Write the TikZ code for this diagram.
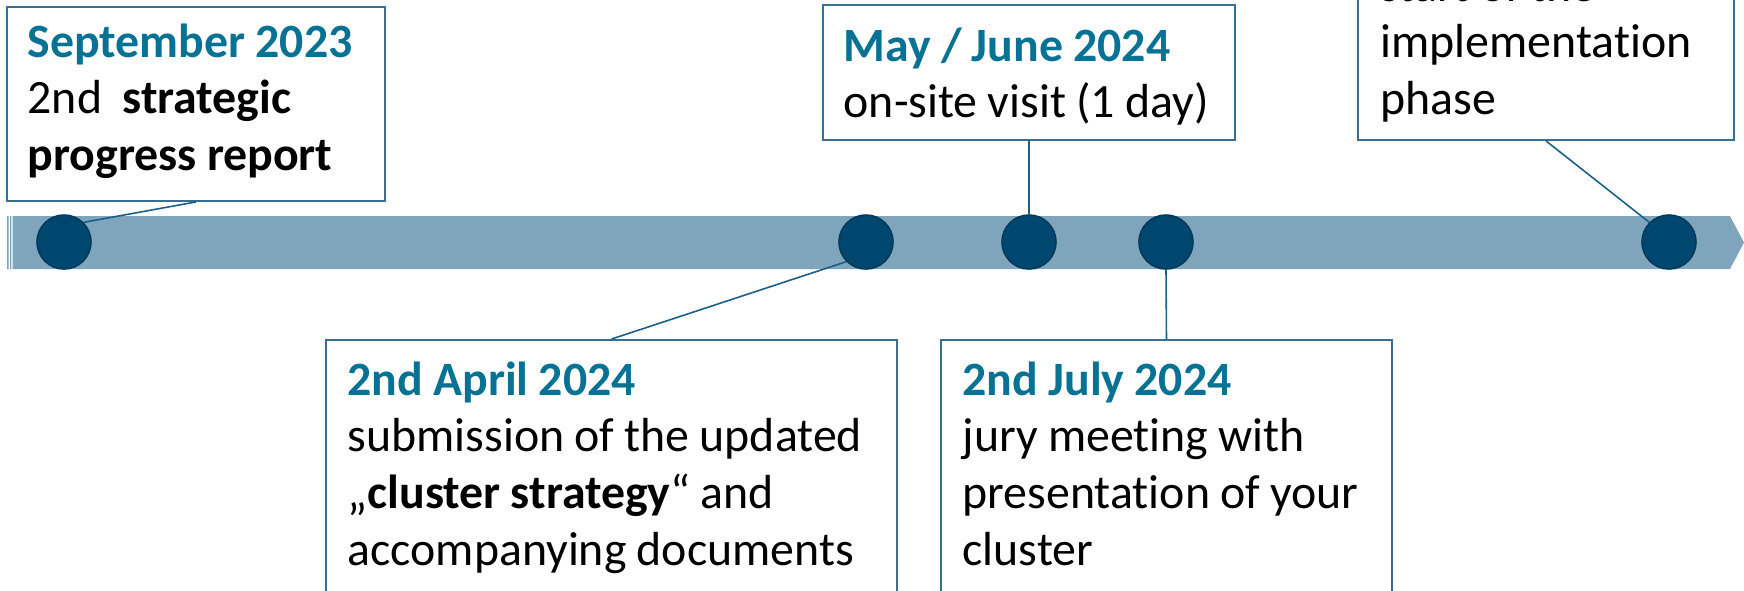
\documentclass[tikz,border=0pt]{standalone}
\usepackage{fontspec}
\setmainfont[Ligatures=NoCommon]{Carlito}
\definecolor{barblue}{HTML}{7FA5BD}
\definecolor{dotblue}{HTML}{00476F}
\definecolor{dotedge}{HTML}{003A5A}
\definecolor{headteal}{HTML}{087294}
\definecolor{frameblue}{HTML}{3A6F91}
\definecolor{linkblue}{HTML}{1B5E86}
\tikzset{
  dot/.style={circle, fill=dotblue, draw=dotedge, line width=0.45pt, minimum size=0.54cm, inner sep=0pt},
  card/.style={draw=frameblue, line width=0.5pt, fill=white, inner sep=0pt},
  txt/.style={anchor=base west, inner sep=0pt, align=left, text width=#1,
    font=\fontsize{13.6}{16.2}\selectfont, execute at begin node={\spaceskip=2.9pt\relax}},
  link/.style={draw=linkblue, line width=0.45pt},
}
\newcommand{\hd}[1]{\textcolor{headteal}{\textbf{#1}}}

\begin{document}
\begin{tikzpicture}[x=0.01cm, y=-0.01cm]
            \useasboundingbox (0,0) rectangle (1744,590);
            \clip (0,0) rectangle (1744,590);

            \fill[barblue] (7,216) rectangle (8.7,269) (10,216) rectangle (11.3,269);
            \fill[barblue] (12.7,216) -- (1730,216) -- (1744,242.5) -- (1730,269) -- (12.7,269) -- cycle;

            \node (b1) at (196,104) [card, minimum width=3.78cm, minimum height=1.94cm] {};
            \node (b2) at (1029,72.5) [card, minimum width=4.12cm, minimum height=1.35cm] {};
            \node (b3) at (611.5,470) [card, minimum width=5.71cm, minimum height=2.6cm] {};
            \node (b4) at (1166.5,470) [card, minimum width=4.51cm, minimum height=2.6cm] {};
            \node (b5) at (1546,60) [card, minimum width=3.76cm, minimum height=1.6cm] {};

            \node (t1) at (27,57) [txt=3.6cm] {\hd{September 2023}\\ 2nd\ \ \textbf{strategic}\\ \textbf{progress report}};
            \node (t2) at (843,61) [txt=3.9cm] {\hd{May / June 2024}\\ on-site visit (1 day)};
            \node (t3) at (347,395) [txt=5.5cm] {\hd{2nd April 2024}\\ submission of the updated\\ „\textbf{cluster strategy}“ and\\ accompanying documents};
            \node (t4) at (962,395) [txt=4.3cm] {\hd{2nd July 2024}\\ jury meeting with\\ presentation of your\\ cluster};
            \node (t5) at (1380,1) [txt=3.5cm] {start of the\\ implementation\\ phase};

            \node (d1) at (64,242) [dot] {};
            \node (d2) at (866,242) [dot] {};
            \node (d3) at (1029,242) [dot] {};
            \node (d4) at (1166,242) [dot] {};
            \node (d5) at (1669,242) [dot] {};

            \draw[link] (b1.south) -- (d1.45);
            \draw[link] (b3.north) -- (d2.225);
            \draw[link] (b2.south) -- (d3.north);
            \draw[link] (b4.north) -- (d4.south);
            \draw[link] (b5.south) -- (d5.135);
        \end{tikzpicture}
\end{document}
